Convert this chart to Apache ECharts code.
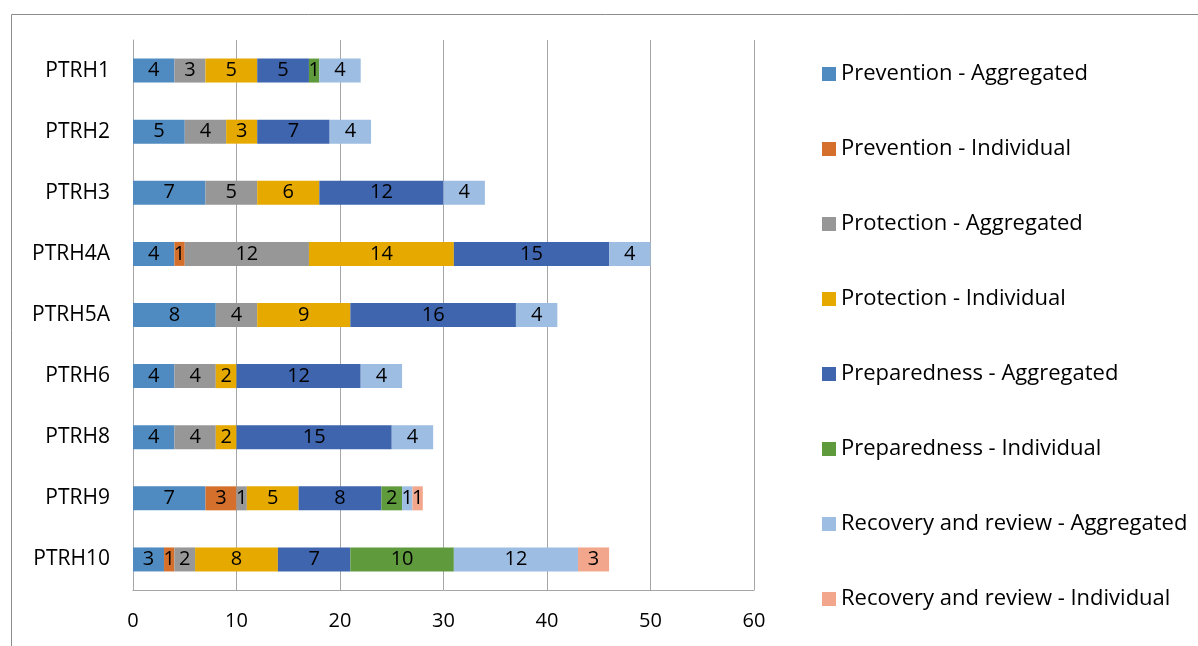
<!DOCTYPE html>
<html><head><meta charset="utf-8">
<script src="https://cdn.jsdelivr.net/npm/echarts@6/dist/echarts.min.js"></script>
<style>html,body{margin:0;padding:0;background:#fff;}#c{width:1198px;height:646px;}</style>
</head><body><div id="c"></div>
<script>
var categories = ['PTRH1','PTRH2','PTRH3','PTRH4A','PTRH5A','PTRH6','PTRH8','PTRH9','PTRH10'];
var seriesNames = ['Prevention - Aggregated','Prevention - Individual','Protection - Aggregated','Protection - Individual','Preparedness - Aggregated','Preparedness - Individual','Recovery and review - Aggregated','Recovery and review - Individual'];
var preventionAggregated   = [4, 5, 7, 4, 8, 4, 4, 7, 3];
var preventionIndividual   = [null, null, null, 1, null, null, null, 3, 1];
var protectionAggregated   = [3, 4, 5, 12, 4, 4, 4, 1, 2];
var protectionIndividual   = [5, 3, 6, 14, 9, 2, 2, 5, 8];
var preparednessAggregated = [5, 7, 12, 15, 16, 12, 15, 8, 7];
var preparednessIndividual = [1, null, null, null, null, null, null, 2, 10];
var recoveryAggregated     = [4, 4, 4, 4, 4, 4, 4, 1, 12];
var recoveryIndividual     = [null, null, null, null, null, null, null, 1, 3];
var xTicks = [0, 10, 20, 30, 40, 50, 60];

var seriesData = [preventionAggregated, preventionIndividual, protectionAggregated, protectionIndividual, preparednessAggregated, preparednessIndividual, recoveryAggregated, recoveryIndividual];
var colors = ['#4f8bc1','#d4702b','#979797','#e5a900','#3e65ae','#5f9a3c','#9ebde3','#f2a68b'];
var FONT = 'Open Sans';

var chart = echarts.init(document.getElementById('c'));
chart.setOption({
  animation: false,
  textStyle: {fontFamily: FONT},
  graphic: [{type: 'rect', shape: {x: 11.5, y: 14.5, width: 1400, height: 1000}, style: {fill: 'none', stroke: '#8c8c8c', lineWidth: 1}, silent: true}],
  grid: {left: 133, right: 444, top: 40, bottom: 56, containLabel: false},
  legend: {
    orient: 'vertical', left: 817, top: 58, height: 600,
    itemWidth: 14, itemHeight: 14, itemGap: 53,
    icon: 'rect',
    textStyle: {fontFamily: FONT, fontSize: 22, color: '#000', padding: [0,0,0,0]},
    data: seriesNames
  },
  xAxis: {
    type: 'value', min: xTicks[0], max: xTicks[xTicks.length-1], interval: 10,
    axisLine: {show: true, lineStyle: {color: '#a6a6a6'}},
    axisTick: {show: false},
    splitLine: {show: true, lineStyle: {color: '#a6a6a6'}},
    axisLabel: {fontFamily: FONT, fontSize: 20, color: '#000', margin: 21}
  },
  yAxis: {
    type: 'category', data: categories, inverse: true,
    axisLine: {show: true, lineStyle: {color: '#a6a6a6'}},
    axisTick: {show: false},
    axisLabel: {fontFamily: FONT, fontSize: 21, color: '#000', margin: 23}
  },
  series: seriesNames.map(function(n, i){
    return {
      name: n, type: 'bar', stack: 'total', barWidth: 24,
      itemStyle: {color: colors[i]},
      label: {show: true, position: 'inside', color: '#000', fontFamily: FONT, fontSize: 20,
        formatter: function(p){ return p.value == null ? '' : p.value; }},
      data: seriesData[i]
    };
  })
});
</script></body></html>
